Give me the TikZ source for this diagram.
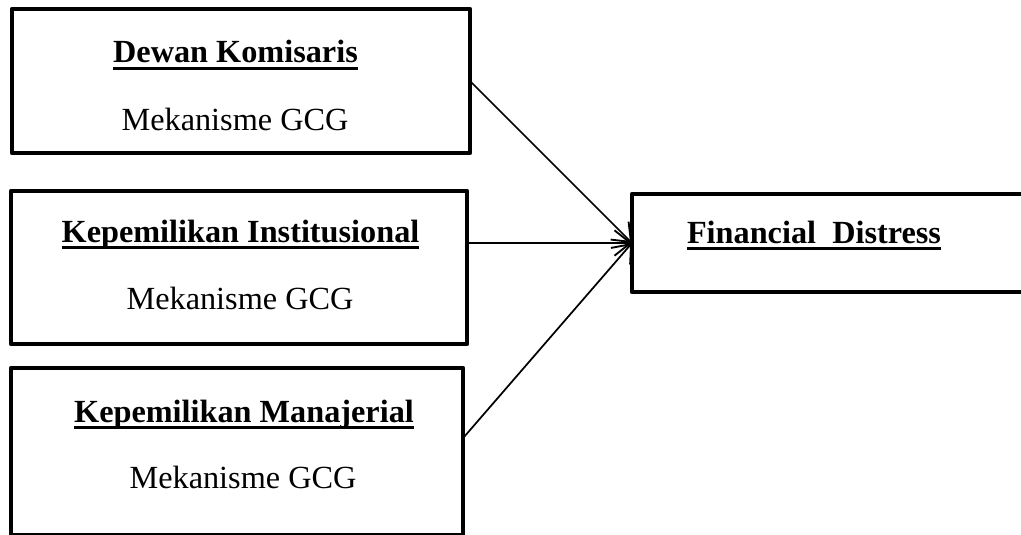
\documentclass[tikz,border=0pt]{standalone}
\usepackage{fontspec}
\setmainfont{Liberation Serif}
\usetikzlibrary{arrows.meta}
\newcommand\undl[1]{\setbox0\hbox{#1}\rlap{\rule[-5pt]{\wd0}{2pt}}\box0}
\tikzset{
  varbox/.style={draw, line width=3.2pt, inner sep=0pt, outer sep=0pt, line join=round},
  vartxt/.style={anchor=base, inner sep=0pt, font=\fontsize{24.2}{29}\selectfont},
  link/.style={line width=1.3pt, -{Straight Barb[length=12pt,width=19pt,line width=1.4pt]}}
}

\begin{document}
\begin{tikzpicture}[x=0.75pt,y=-0.75pt]
\def\u{0.75pt}%one pixel
\useasboundingbox (0,0) rectangle (1021,535);

% boxes
\node[varbox, minimum width=458*\u, minimum height=144*\u] (dk) at (241,81) {};
\node[varbox, minimum width=456*\u, minimum height=153*\u] (ki) at (239,267.5) {};
\node[varbox, minimum width=452*\u, minimum height=167*\u] (km) at (237,451.5) {};
\node[varbox, minimum width=391*\u, minimum height=98*\u] (fd) at (827.5,243) {};

% labels
\node[vartxt] (dkt) at (235.5,63) {\bfseries\undl{Dewan Komisaris}};
\node[vartxt] (dkm) at (235,130) {Mekanisme GCG};
\node[vartxt] (kit) at (240.5,242) {\bfseries\undl{Kepemilikan Institusional}};
\node[vartxt] (kim) at (240,309) {Mekanisme GCG};
\node[vartxt] (kmt) at (244,422) {\bfseries\undl{Kepemilikan Manajerial}};
\node[vartxt] (kmm) at (243,488) {Mekanisme GCG};
\node[vartxt] (fdt) at (814,243) {\bfseries\undl{Financial~~Distress}};

% arrows
\draw[link] (dk.east) -- (fd.west);
\draw[link] (ki.east |- fd.west) -- (fd.west);
\draw[link] ([yshift=10pt]km.east) -- (fd.west);
\end{tikzpicture}
\end{document}
